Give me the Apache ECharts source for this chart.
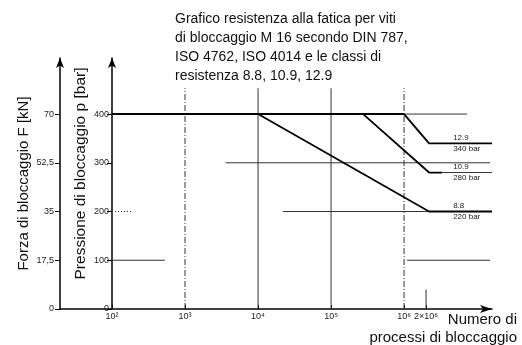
<!DOCTYPE html>
<html><head><meta charset="utf-8">
<script src="https://cdn.jsdelivr.net/npm/echarts@6/dist/echarts.min.js"></script>
<style>html,body{margin:0;padding:0;background:#fff}#c{width:522px;height:345px}</style>
</head><body><div id="c"></div>
<script>
const titleLines = ['Grafico resistenza alla fatica per viti','di bloccaggio M 16 secondo DIN 787,','ISO 4762, ISO 4014 e le classi di','resistenza 8.8, 10.9, 12.9'];
const xAxisNameLines = ['Numero di', 'processi di bloccaggio'];
const cycleTicks = [1e2, 1e3, 1e4, 1e5, 1e6, 2e6];
const cycleTickLabels = ['10²', '10³', '10⁴', '10⁵', '10⁶', '2×10⁶'];
const pressureTicks = [0, 100, 200, 300, 400];
const forceTicks = [0, 17.5, 35, 52.5, 70];
const grades = ['12.9', '10.9', '8.8'];
const gradePressureLabels = ['340 bar', '280 bar', '220 bar'];
// curves [cycles, pressure bar]
const commonLimit = [[1e2, 400], [1e6, 400]];
const line129 = [[1e6, 400], [2.2e6, 340], [1.6e7, 340]];
const line109 = [[2.75e5, 400], [2.2e6, 280], [3.3e6, 280]];
const line88 = [[1e4, 400], [2.2e6, 200], [1.6e7, 200]];
// thin reference lines: horizontal [x1, x2, p], vertical [x, p1, p2]
const helperH = [[1e6, 7.3e6, 400], [3.6e3, 1.5e7, 300], [3.3e6, 1.6e7, 280], [2.2e4, 2.2e6, 200], [1e2, 530, 100], [1.1e6, 1.5e7, 100]];
const dottedH = [[1e2, 195, 200]];
const helperV = [[1e4, 0, 453], [1e5, 0, 453], [2e6, 0, 40]];
const dashedV = [[1e3, 0, 453], [1e6, 0, 453]];
const cyclesMin = 19.4, cyclesMax = 1.6e7;
const forcePerBar = 0.175;
const pressureMax = 515;

const FONT = '"Liberation Sans", Arial, Helvetica, sans-serif';
const lg = v => Math.log10(v);
const pt = p => [lg(p[0]), p[1]];
const logTicks = cycleTicks.map(lg);
function cycLabel(v) {
  for (let i = 0; i < logTicks.length; i++) if (Math.abs(logTicks[i] - v) < 1e-6) return cycleTickLabels[i];
  return '';
}
const series = [];
helperH.forEach(h => series.push({type: 'line', symbol: 'none', silent: true, z: 1,
  data: [pt([h[0], h[2]]), pt([h[1], h[2]])], lineStyle: {color: '#333', width: 1}}));
dottedH.forEach(h => series.push({type: 'line', symbol: 'none', silent: true, z: 1,
  data: [pt([h[0], h[2]]), pt([h[1], h[2]])], lineStyle: {color: '#333', width: 1, type: [1, 2]}}));
helperV.forEach(v => series.push({type: 'line', symbol: 'none', silent: true, z: 1,
  data: [pt([v[0], v[1]]), pt([v[0], v[2]])], lineStyle: {color: '#333', width: 1}}));
dashedV.forEach(v => series.push({type: 'line', symbol: 'none', silent: true, z: 1,
  data: [pt([v[0], v[1]]), pt([v[0], v[2]])], lineStyle: {color: '#333', width: 1, type: [6, 2, 1, 2]}}));
series.push({type: 'line', symbol: 'none', z: 3, data: commonLimit.map(pt), lineStyle: {color: '#000', width: 2}});
[line129, line109, line88].forEach((ln, gi) => {
  series.push({type: 'line', z: 3, showSymbol: true, symbol: 'circle', symbolSize: 0.1,
    lineStyle: {color: '#000', width: 1.8}, itemStyle: {color: '#000'},
    data: ln.map((p, i) => i === 1 ? {value: pt(p), label: {show: true, position: 'right', distance: 24,
      formatter: grades[gi] + '\n' + gradePressureLabels[gi], fontSize: 8, lineHeight: 11,
      color: '#222', fontFamily: FONT}} : pt(p))});
});

const chart = echarts.init(document.getElementById('c'), null, {renderer: 'canvas'});
chart.setOption({
  animation: false,
  backgroundColor: '#fff',
  textStyle: {fontFamily: FONT},
  title: [
    {text: titleLines.join('\n'), left: 175, top: 10, padding: 0,
      textStyle: {fontSize: 14, lineHeight: 19, fontWeight: 'normal', color: '#111', fontFamily: FONT}},
    {text: xAxisNameLines.join('\n'), left: 517, top: 311, padding: 0, textAlign: 'right',
      textStyle: {fontSize: 15, lineHeight: 18, fontWeight: 'normal', color: '#111', fontFamily: FONT, align: 'right'}}
  ],
  grid: {left: 60, right: 30, top: 58, bottom: 36, containLabel: false, outerBoundsMode: 'none'},
  xAxis: {type: 'value', min: lg(cyclesMin), max: lg(cyclesMax),
    axisLine: {show: true, onZero: false, lineStyle: {color: '#000', width: 1.5}, symbol: ['none', 'arrow'], symbolSize: [6, 12]},
    axisTick: {show: true, inside: true, length: 4, customValues: logTicks, lineStyle: {color: '#000'}},
    axisLabel: {customValues: logTicks, formatter: cycLabel, fontSize: 9, margin: 3, color: '#222', hideOverlap: false},
    splitLine: {show: false}},
  yAxis: [
    {type: 'value', min: 0, max: pressureMax, position: 'left', offset: -52,
      axisLine: {show: true, onZero: false, lineStyle: {color: '#000', width: 1.5}, symbol: ['none', 'arrow'], symbolSize: [6, 10]},
      axisTick: {show: true, length: 5, customValues: pressureTicks, lineStyle: {color: '#000'}},
      axisLabel: {customValues: pressureTicks, fontSize: 9, margin: 3, color: '#222'},
      splitLine: {show: false},
      name: 'Pressione di bloccaggio p [bar]', nameLocation: 'middle', nameGap: 23, nameMoveOverlap: false,
      nameTextStyle: {fontSize: 15.5, color: '#111', padding: [0, 0, 0, 20]}},
    {type: 'value', min: 0, max: pressureMax * forcePerBar, position: 'left', offset: 0,
      axisLine: {show: true, onZero: false, lineStyle: {color: '#000', width: 1.5}, symbol: ['none', 'arrow'], symbolSize: [6, 10]},
      axisTick: {show: true, length: 5, customValues: forceTicks, lineStyle: {color: '#000'}},
      axisLabel: {customValues: forceTicks, formatter: v => String(v).replace('.', ','), fontSize: 9, margin: 6, color: '#222'},
      splitLine: {show: false},
      name: 'Forza di bloccaggio F [kN]', nameLocation: 'middle', nameGap: 29, nameMoveOverlap: false,
      nameTextStyle: {fontSize: 15, color: '#111'}}
  ],
  series: series
});
</script></body></html>
